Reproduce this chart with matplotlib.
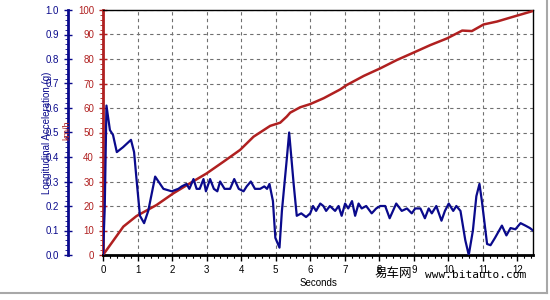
import matplotlib.pyplot as plt
from matplotlib.ticker import MultipleLocator
from matplotlib.lines import Line2D

# acceleration trace (g)
acc_t = [0.0, 0.05, 0.1, 0.2, 0.29, 0.4, 0.58, 0.81, 0.9, 0.97, 1.07, 1.19, 1.31,
         1.51, 1.75, 1.99, 2.18, 2.28, 2.42, 2.5, 2.62, 2.71, 2.8, 2.91, 2.98, 3.1,
         3.21, 3.31, 3.39, 3.52, 3.68, 3.8, 3.93, 4.07, 4.16, 4.28, 4.4, 4.55, 4.67,
         4.75, 4.82, 4.92, 4.99, 5.11, 5.18, 5.32, 5.39, 5.52, 5.61, 5.74, 5.88, 6.0,
         6.08, 6.17, 6.29, 6.38, 6.46, 6.57, 6.72, 6.82, 6.91, 7.01, 7.1, 7.21, 7.3,
         7.4, 7.49, 7.62, 7.78, 7.91, 8.03, 8.17, 8.3, 8.49, 8.65, 8.8, 8.94, 9.04,
         9.19, 9.32, 9.43, 9.52, 9.65, 9.8, 9.9, 10.01, 10.14, 10.23, 10.35, 10.49,
         10.59, 10.71, 10.81, 10.9, 10.97, 11.12, 11.22, 11.35, 11.55, 11.68, 11.8,
         11.94, 12.09, 12.23, 12.36, 12.45]
acc_g = [0.0, 0.19, 0.61, 0.51, 0.49, 0.42, 0.44, 0.47, 0.42, 0.31, 0.16, 0.13, 0.18,
         0.32, 0.27, 0.26, 0.27, 0.28, 0.29, 0.27, 0.31, 0.27, 0.27, 0.31, 0.26, 0.31,
         0.27, 0.26, 0.30, 0.27, 0.27, 0.31, 0.27, 0.26, 0.28, 0.30, 0.27, 0.27, 0.28,
         0.27, 0.29, 0.22, 0.07, 0.03, 0.18, 0.39, 0.50, 0.29, 0.16, 0.17, 0.155, 0.17,
         0.20, 0.18, 0.21, 0.20, 0.18, 0.20, 0.18, 0.20, 0.16, 0.21, 0.19, 0.22, 0.16,
         0.21, 0.19, 0.20, 0.17, 0.19, 0.20, 0.20, 0.15, 0.21, 0.18, 0.19, 0.17, 0.19,
         0.19, 0.15, 0.19, 0.17, 0.20, 0.14, 0.18, 0.21, 0.18, 0.20, 0.18, 0.06,
         0.0, 0.10, 0.24, 0.29, 0.22, 0.045, 0.04, 0.07, 0.12, 0.08, 0.11,
         0.105, 0.13, 0.12, 0.11, 0.10]

# speed trace (km/h)
spd_t = [0.0, 0.59, 0.97, 1.55, 2.04, 2.52, 3.0, 3.49, 3.97, 4.36, 4.84, 5.13, 5.32,
         5.42, 5.71, 6.0, 6.39, 6.87, 7.06, 7.55, 8.03, 8.51, 8.99, 9.48, 9.96, 10.4,
         10.68, 11.02, 11.41, 11.89, 12.45]
spd_v = [0.0, 11.6, 15.9, 20.4, 25.2, 29.3, 33.3, 38.1, 42.9, 48.3, 52.7, 54.0, 56.5,
         58.1, 60.3, 61.6, 64.0, 67.6, 69.4, 73.1, 76.2, 79.6, 82.6, 85.7, 88.4, 91.6,
         91.4, 94.1, 95.3, 97.3, 99.6]

RED = '#b02020'
NAVY = '#0a0a8c'
plt.rcParams['font.family'] = ['Liberation Sans', 'DejaVu Sans']

fig = plt.figure(figsize=(5.5, 3), dpi=100)
rect = [103 / 550, 45 / 300, 430 / 550, 245 / 300]

# speed axis (main)
ax = fig.add_axes(rect)
ax.plot(spd_t, spd_v, color=RED, lw=1.8, zorder=3)
ax.set_xlim(0, 12.45)
ax.set_ylim(0, 100)
ax.xaxis.set_major_locator(MultipleLocator(1))
ax.xaxis.set_minor_locator(MultipleLocator(0.2))
ax.yaxis.set_major_locator(MultipleLocator(10))
ax.yaxis.set_minor_locator(MultipleLocator(2))
ax.grid(True, which='major', color='#707070', ls=(0, (3, 3)), lw=0.8)
ax.tick_params(axis='y', which='major', colors=RED, labelsize=7, direction='inout', length=6, width=1)
ax.tick_params(axis='y', which='minor', colors=RED, direction='out', length=2, width=0.6)
ax.tick_params(axis='x', which='major', labelsize=7, direction='out', length=4, width=1)
ax.tick_params(axis='x', which='minor', direction='out', length=2.5, width=0.8)
ax.spines['left'].set_color(RED)
ax.spines['left'].set_linewidth(2)
ax.spines['bottom'].set_linewidth(2)
ax.spines['top'].set_linewidth(1)
ax.spines['right'].set_linewidth(1)
ax.set_xlabel('Seconds', fontsize=7)
ax.xaxis.set_label_coords(0.5, -0.095)

# acceleration axis (offset 35 px to the left)
ax2 = fig.add_axes(rect, sharex=ax)
ax2.patch.set_visible(False)
ax2.plot(acc_t, acc_g, color=NAVY, lw=1.6, zorder=4)
ax2.set_ylim(0, 1)
ax2.yaxis.set_major_locator(MultipleLocator(0.1))
ax2.yaxis.set_minor_locator(MultipleLocator(0.02))
for s in ['top', 'right', 'bottom']:
    ax2.spines[s].set_visible(False)
ax2.spines['left'].set_position(('outward', 35 * 72 / 100))
ax2.spines['left'].set_color(NAVY)
ax2.spines['left'].set_linewidth(2)
ax2.tick_params(axis='y', which='major', colors=NAVY, labelsize=7, direction='inout', length=6, width=1)
ax2.tick_params(axis='y', which='minor', colors=NAVY, direction='out', length=2, width=0.6)
ax2.tick_params(axis='x', bottom=False, labelbottom=False)
ax2.set_ylabel('Longitudinal Acceleration (g)', fontsize=7, color=NAVY, va='center')
ax2.yaxis.set_label_coords(-0.130, 0.5)

fig.text(67 / 550, 1 - 130 / 300, 'km/h', color=RED, fontsize=6.5, rotation=90,
         ha='center', va='center')

# watermark
fig.text(375 / 550, 1 - 273 / 300, '易车网', fontsize=9,
         family=['Noto Sans CJK SC', 'DejaVu Sans'], va='center')
fig.text(425 / 550, 1 - 275 / 300, 'www.bitauto.com', fontsize=8,
         family='DejaVu Sans Mono', va='center')

# outer border
fig.add_artist(Line2D([0, 547 / 550], [1 - 293 / 300] * 2, color='#a8a8a8', lw=1.5))
fig.add_artist(Line2D([547 / 550] * 2, [1 - 293 / 300, 1], color='#a8a8a8', lw=1.5))

fig.savefig('out.png', dpi=100)
